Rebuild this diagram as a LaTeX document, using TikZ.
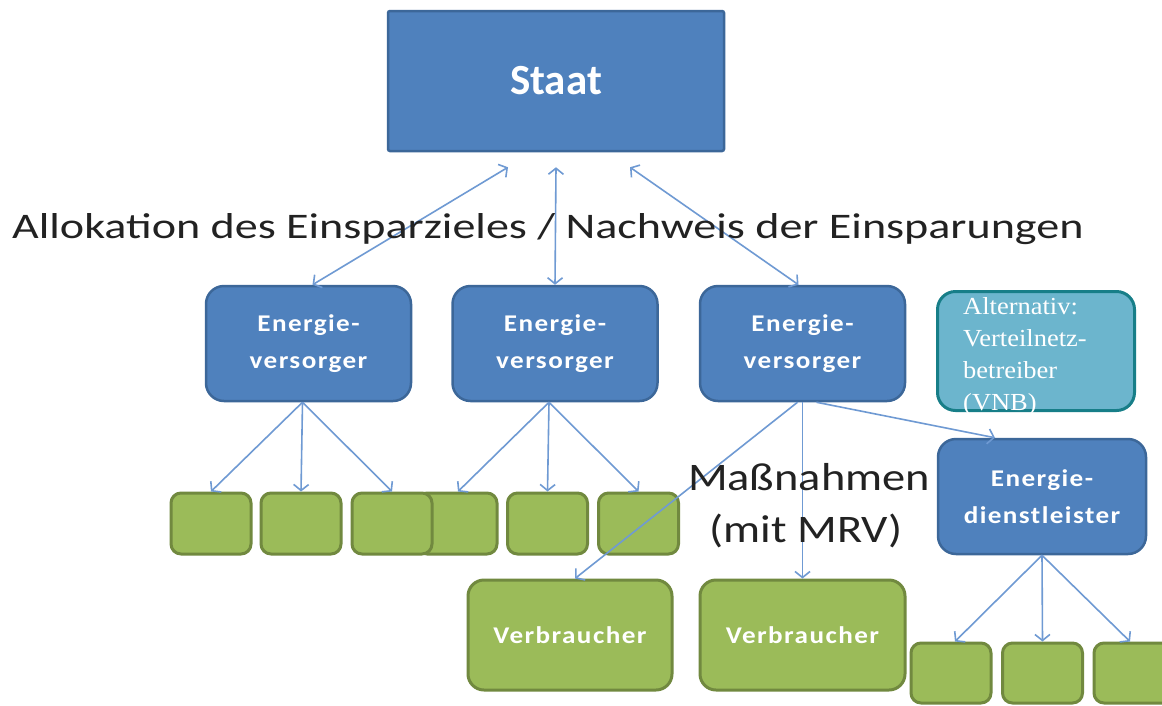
\documentclass[tikz,border=0pt]{standalone}
\usepackage{fontspec}
\setmainfont{Carlito}
\newfontfamily\serifalt[FakeStretch=1.08]{Liberation Serif}
\newfontfamily\wideA[FakeStretch=1.28]{Carlito}
\newfontfamily\wideB[FakeStretch=1.19]{Carlito}
\newfontfamily\spaced[FakeStretch=1.13,LetterSpace=6]{Carlito}
\usetikzlibrary{arrows.meta}
\definecolor{bfill}{HTML}{4F81BD}
\definecolor{bline}{HTML}{3C6799}
\definecolor{gfill}{HTML}{9BBB59}
\definecolor{gline}{HTML}{71893F}
\definecolor{tfill}{HTML}{6CB5CD}
\definecolor{tline}{HTML}{177E88}
\definecolor{arrc}{HTML}{6F9AD3}
\definecolor{txt}{HTML}{222222}
\tikzset{
  bluebox/.style={draw=bline, fill=bfill, line width=2.5pt, rounded corners=18pt,
    text=white, font=\spaced\bfseries\fontsize{24}{37}\selectfont, align=center, inner sep=0pt},
  greenbox/.style={draw=gline, fill=gfill, line width=3pt, rounded corners=10pt,
    minimum width=80pt, minimum height=61pt, inner sep=0pt},
  bigbox/.style={greenbox, minimum width=204pt, minimum height=110pt, rounded corners=16pt,
    text=white, font=\spaced\bfseries\fontsize{24}{30}\selectfont},
  link/.style={draw=arrc, line width=1.6pt, -{Straight Barb[length=6pt,width=15pt,line width=1.6pt]}},
  dlink/.style={draw=arrc, line width=1.6pt, {Straight Barb[length=6pt,width=15pt,line width=1.6pt]}-{Straight Barb[length=6pt,width=15pt,line width=1.6pt]}},
  bigtext/.style={text=txt, inner sep=0pt}
}
\begin{document}
\begin{tikzpicture}[x=1pt,y=-1pt]
\useasboundingbox (0,0) rectangle (1162,705);
\clip (0,0) rectangle (1162,705);
\fill[white] (0,0) rectangle (1162,705);

% top
\node[bluebox, rounded corners=2pt, minimum width=336pt, minimum height=140pt,
  font=\bfseries\fontsize{43}{50}\selectfont] (staat) at (556,81) {Staat};

% energy suppliers
\node[bluebox, minimum width=205pt, minimum height=115pt] (ev1) at (308.5,343.5) {Energie-\\versorger};
\node[bluebox, minimum width=205pt, minimum height=115pt] (ev2) at (555,343.5) {Energie-\\versorger};
\node[bluebox, minimum width=205pt, minimum height=115pt] (ev3) at (802.5,343.5) {Energie-\\versorger};

% alternative box
\node[draw=tline, fill=tfill, line width=3pt, rounded corners=18pt,
  minimum width=197pt, minimum height=119pt] (alt) at (1036,351) {};
\node[anchor=north west, inner sep=0pt, align=left, text=white,
  font=\serifalt\fontsize{24.5}{32}\selectfont] (alttxt) at (963,297)
  {Alternativ:\\Verteilnetz-\\betreiber\\(VNB)};

% service provider
\node[bluebox, minimum width=208pt, minimum height=115pt] (edl) at (1042,496.5) {Energie-\\dienstleister};

% green row 1
\node[greenbox] (g4) at (457,523.5) {};
\node[greenbox] (g1) at (211,523.5) {};
\node[greenbox] (g2) at (301,523.5) {};
\node[greenbox] (g3) at (392,523.5) {};
\node[greenbox] (g5) at (547.5,523.5) {};
\node[greenbox] (g6) at (638.5,523.5) {};

% consumers
\node[bigbox] (v1) at (570,635) {Verbraucher};
\node[bigbox, minimum width=205pt] (v2) at (802.5,635) {Verbraucher};

% green row 2
\node[greenbox, minimum height=60pt] (r1) at (951,673) {};
\node[greenbox, minimum height=60pt] (r2) at (1042.5,673) {};
\node[greenbox, minimum height=60pt] (r3) at (1134,673) {};

% arrows Staat <-> suppliers
\coordinate (sL) at ([shift={(-48,15)}]staat.south);
\coordinate (sM) at ([shift={(0,15)}]staat.south);
\coordinate (sR) at ([shift={(74,15)}]staat.south);
\draw[dlink] (sL) -- ([xshift=4pt]ev1.north);
\draw[dlink] (sM) -- (ev2.north);
\draw[dlink] (sR) -- ([xshift=-4pt]ev3.north);

% suppliers -> green
\draw[link] ([xshift=-6pt]ev1.south) -- (g1.north);
\draw[link] ([xshift=-6pt]ev1.south) -- (g2.north);
\draw[link] ([xshift=-6pt]ev1.south) -- (g3.north);
\draw[link] ([xshift=-6pt]ev2.south) -- ([xshift=1pt]g4.north);
\draw[link] ([xshift=-6pt]ev2.south) -- (g5.north);
\draw[link] ([xshift=-6pt]ev2.south) -- (g6.north);

% supplier 3
\draw[link] ([xshift=-5pt]ev3.south) -- ([xshift=5pt]v1.north);
\draw[link] (ev3.south) -- (v2.north);
\draw[link] ([xshift=14pt]ev3.south) -- ([xshift=-47pt]edl.north);

% service provider -> green
\draw[link] (edl.south) -- ([xshift=4pt]r1.north);
\draw[link] (edl.south) -- (r2.north);
\draw[link] (edl.south) -- ([xshift=-4pt]r3.north);

% texts
\node[bigtext, anchor=base west, font=\wideA\fontsize{36}{40}\selectfont] (alloc) at (12,238)
  {Allokation des Einsparzieles / Nachweis der Einsparungen};
\node[bigtext, anchor=base, font=\wideB\fontsize{39}{44}\selectfont] (mass1) at (809,490) {Maßnahmen};
\node[bigtext, anchor=base, font=\wideB\fontsize{39}{44}\selectfont] (mass2) at (806,542) {(mit MRV)};
\end{tikzpicture}
\end{document}
